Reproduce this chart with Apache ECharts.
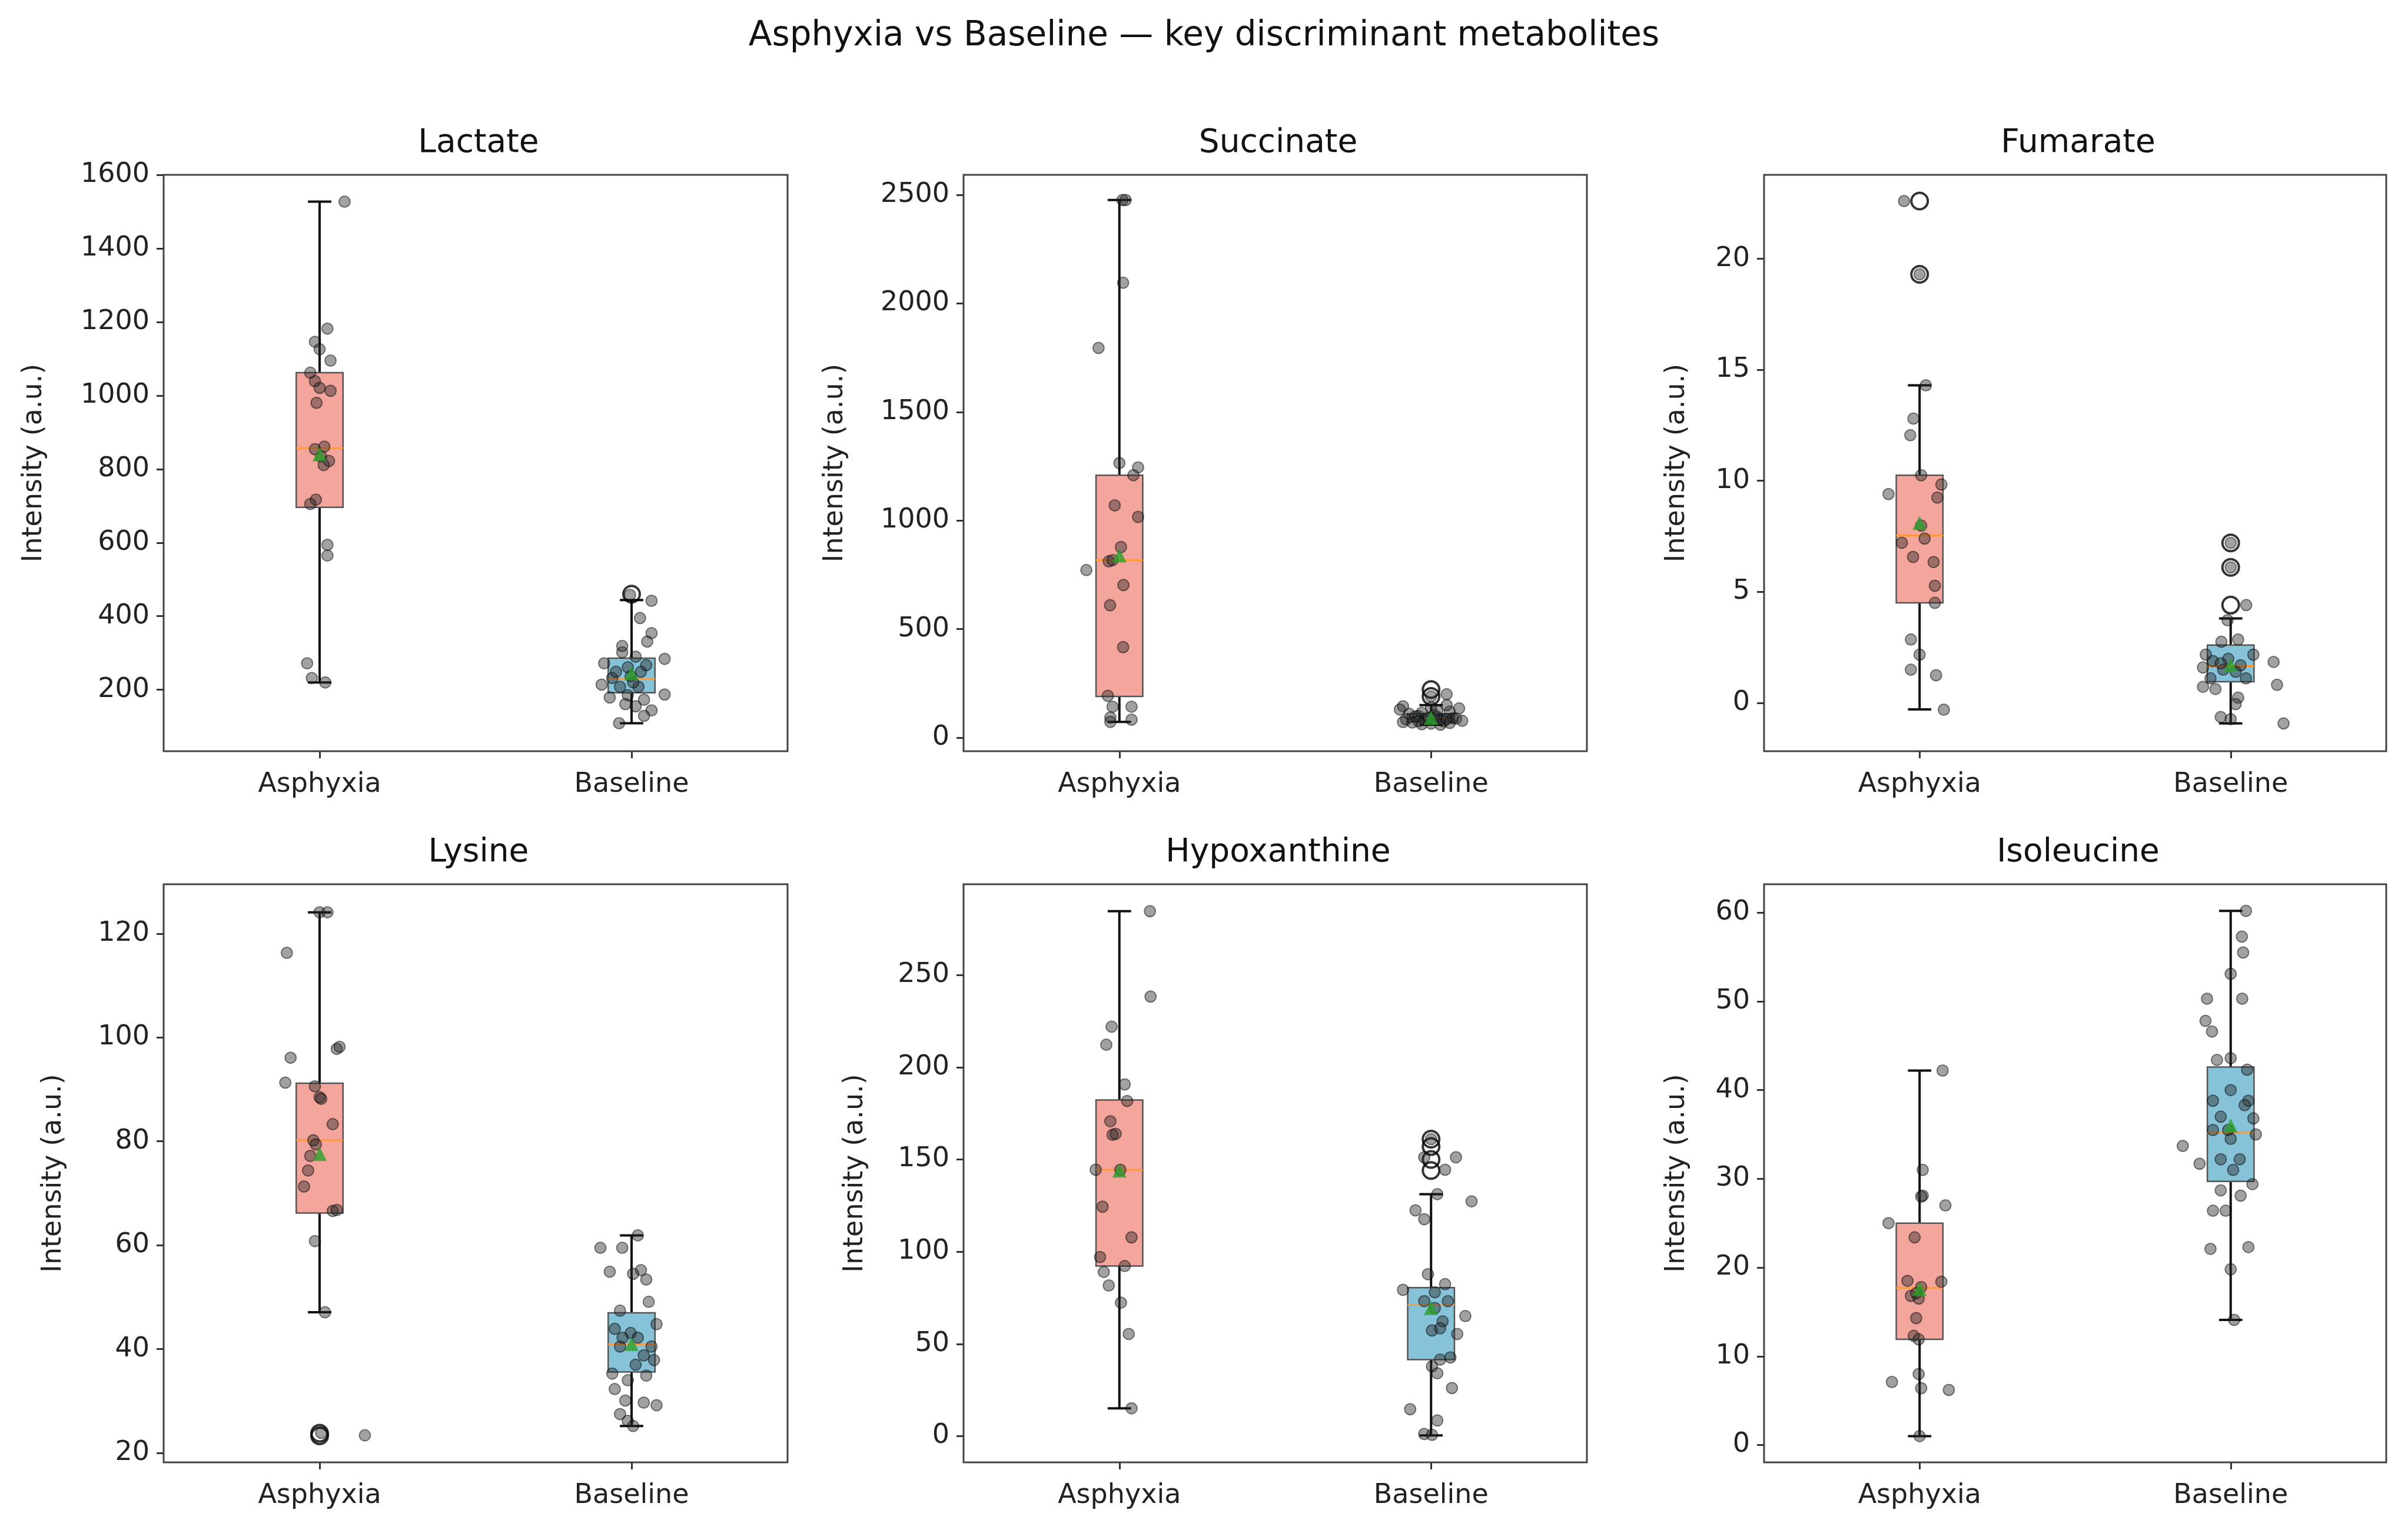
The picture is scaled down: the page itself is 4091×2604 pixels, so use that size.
<!DOCTYPE html>
<html>
<head>
<meta charset="utf-8">
<script src="https://cdn.jsdelivr.net/npm/echarts@6/dist/echarts.min.js"></script>
<style>
  html, body { margin: 0; padding: 0; background: #fff; }
  #chart { width: 4091px; height: 2604px; }
</style>
</head>
<body>
<div id="chart"></div>
<script>
// categories and panels
const categories = ['Asphyxia', 'Baseline'];
const metabolites = ['Lactate', 'Succinate', 'Fumarate', 'Lysine', 'Hypoxanthine', 'Isoleucine'];
const suptitle = 'Asphyxia vs Baseline \u2014 key discriminant metabolites';
const yName = 'Intensity (a.u.)';

// y axis limits and ticks
const yLimits = [[33, 1600], [-62, 2592], [-2.18, 23.78], [18.2, 129.5], [-14.2, 299.2], [-1.96, 63.2]];
const yTicks = [
    [200, 400, 600, 800, 1000, 1200, 1400, 1600],
    [0, 500, 1000, 1500, 2000, 2500],
    [0, 5, 10, 15, 20],
    [20, 40, 60, 80, 100, 120],
    [0, 50, 100, 150, 200, 250],
    [0, 10, 20, 30, 40, 50, 60]
];

// box stats per group: [whiskerLow, Q1, median, Q3, whiskerHigh]
const lactateBox = [[220, 696, 857, 1062, 1527], [109, 192, 230, 286, 444]];
const succinateBox = [[73, 190, 818, 1209, 2476], [60, 72, 88, 110, 150]];
const fumarateBox = [[-0.3, 4.5, 7.54, 10.25, 14.3], [-0.93, 0.95, 1.65, 2.6, 3.8]];
const lysineBox = [[47.1, 66.2, 80.2, 91.2, 124.1], [25.2, 35.6, 40.9, 47, 61.9]];
const hypoxanthineBox = [[15.1, 92.2, 144.4, 182.2, 284.6], [0.4, 41.5, 71.2, 80.5, 131.2]];
const isoleucineBox = [[1.0, 11.9, 17.7, 25.0, 42.2], [14.1, 29.7, 35.2, 42.6, 60.2]];

// group means
const lactateMean = [840, 245];
const succinateMean = [840, 92];
const fumarateMean = [8.1, 1.7];
const lysineMean = [77.6, 41];
const hypoxanthineMean = [144, 69.5];
const isoleucineMean = [17.6, 36];

// outliers: [groupIndex, value]
const lactateOut = [[1, 460]];
const succinateOut = [[1, 222], [1, 190]];
const fumarateOut = [[0, 22.6], [0, 19.3], [1, 7.2], [1, 6.1], [1, 4.4]];
const lysineOut = [[0, 23.3], [0, 23.8]];
const hypoxanthineOut = [[1, 161], [1, 157], [1, 150], [1, 144]];
const isoleucineOut = [];

// jittered observations: [jitter, value]
const lactateA = [[.08, 1527], [.025, 1182], [-.015, 1146], [0, 1126], [.035, 1095], [-.03, 1062], [-.015, 1039], [0, 1021],
    [.035, 1013], [-.01, 980], [-.015, 854], [.015, 861], [.005, 834], [.03, 822], [.013, 811], [-.012, 717], [-.03, 705],
    [.025, 594], [.025, 565], [-.04, 272], [-.025, 232], [.018, 220]];
const lactateB = [[.064, 442], [.027, 395], [.064, 354], [.05, 331], [.106, 284], [-.088, 272], [-.03, 302], [.013, 290],
    [-.012, 261], [.03, 249], [-.062, 232], [-.003, 237], [-.096, 214], [-.037, 208], [.022, 208], [.106, 187], [-.07, 179],
    [-.012, 185], [.04, 173], [.064, 144], [.013, 155], [.04, 129], [-.04, 109], [-.02, 161], [.005, 220], [-.05, 249],
    [.047, 267], [-.03, 319], [-.005, 458]];
const succinateA = [[.01, 2476], [.02, 2476], [.012, 2095], [-.067, 1795], [0, 1265], [.06, 1245], [.045, 1209], [-.015, 1070],
    [.06, 1017], [.005, 878], [-.034, 812], [-.022, 818], [-.106, 772], [.013, 703], [-.03, 610], [.012, 417], [-.037, 193],
    [-.022, 143], [.039, 143], [-.029, 93], [.039, 83], [-.029, 73]];
const succinateB = [[-.09, 145], [-.1, 130], [.06, 120], [.09, 135], [.05, 150], [-.07, 110], [-.04, 100], [.02, 95], [.07, 90],
    [-.08, 85], [-.02, 80], [.04, 75], [-.06, 70], [0, 65], [.03, 60], [.01, 105], [-.03, 115], [.08, 88], [.1, 78], [-.09, 72],
    [.06, 68], [-.01, 92], [.03, 82], [-.05, 98], [.02, 125], [0, 140], [-.03, 62], [.05, 86], [-.04, 76], [.05, 200], [0, 190]];
const fumarateA = [[-.05, 22.6], [0, 19.3], [.02, 14.3], [-.02, 12.8], [-.03, 12.05], [.005, 10.25], [-.1, 9.4], [.07, 9.83],
    [.057, 9.24], [.005, 7.98], [.016, 7.4], [-.057, 7.21], [-.021, 6.57], [.045, 6.34], [.049, 5.27], [.049, 4.5], [-.028, 2.85],
    [0, 2.17], [-.028, 1.49], [.053, 1.24], [.078, -0.31]];
const fumarateB = [[0, 7.2], [0, 6.1], [.05, 4.4], [-.01, 3.72], [.024, 2.85], [-.03, 2.75], [.073, 2.17], [-.08, 2.17],
    [-.057, 1.88], [-.008, 1.98], [.138, 1.84], [-.089, 1.59], [-.024, 1.49], [.016, 1.4], [.049, 1.1], [-.065, 1.1],
    [.149, 0.81], [-.089, 0.72], [-.049, 0.62], [.024, 0.23], [.016, -0.06], [-.032, -0.64], [.17, -0.93], [0, -0.74],
    [.032, 1.69], [-.032, 1.78]];
const lysineA = [[.145, 23.4], [.005, 23.9], [0, 124.1], [.025, 124.1], [-.105, 116.3], [-.093, 96.1], [-.11, 91.3], [.055, 97.8],
    [.064, 98.2], [-.015, 90.6], [0, 88.5], [.005, 88.2], [.042, 83.3], [-.02, 80.2], [-.012, 79.4], [-.03, 77.2], [-.037, 74.4],
    [-.05, 71.3], [.042, 66.6], [.055, 66.8], [-.015, 60.8], [.017, 47.1]];
const lysineB = [[.02, 61.9], [-.1, 59.5], [-.03, 59.5], [-.07, 54.9], [.03, 55.2], [.047, 53.4], [.005, 54.5], [.055, 49.1],
    [-.037, 47.4], [.08, 44.8], [-.054, 43.9], [-.003, 43.1], [.02, 42.2], [.064, 40.5], [-.037, 40.5], [.039, 38.8], [.072, 37.9],
    [-.062, 35.3], [.047, 34.9], [-.012, 34], [-.054, 32.3], [-.02, 30.1], [.039, 29.7], [.08, 29.2], [-.037, 27.5], [-.012, 26.2],
    [.005, 25.2], [-.029, 42.2], [.013, 37.0]];
const hypoxanthineA = [[.098, 284.6], [.1, 238.3], [-.025, 222], [-.042, 212.2], [.017, 190.7], [.025, 181.7], [-.029, 170.7],
    [-.022, 163.4], [-.012, 163.9], [-.076, 144.4], [.003, 144.4], [-.054, 124.4], [.039, 107.8], [-.062, 97.1], [.017, 92.2],
    [-.05, 89], [-.034, 81.7], [.005, 72.4], [.03, 55.4], [.039, 15.1]];
const hypoxanthineB = [[0, 161], [-.022, 151.2], [.08, 151.2], [.045, 144.4], [.02, 131.2], [.13, 127.3], [-.05, 122.4],
    [-.022, 117.6], [-.01, 87.8], [-.09, 79.3], [.045, 82.4], [.012, 78], [-.022, 73.2], [.012, 69.5], [.11, 65.1], [.037, 62.2],
    [.003, 57.3], [.084, 55.4], [.029, 41.5], [.062, 42.7], [.003, 37.8], [.02, 34.1], [.067, 26.1], [-.067, 14.6], [.02, 8.5],
    [-.022, 1.2], [.003, 0.7], [.029, 58.5], [.054, 73.2]];
const isoleucineA = [[.074, 42.2], [.01, 31.0], [.01, 28.1], [.005, 28.0], [.083, 27.0], [-.1, 25.0], [-.016, 23.4], [-.039, 18.5],
    [.07, 18.4], [.005, 17.8], [-.011, 17.1], [-.028, 16.8], [-.003, 16.5], [-.011, 14.3], [-.019, 12.3], [-.003, 11.9],
    [-.003, 8.0], [-.089, 7.1], [.005, 6.4], [.094, 6.2], [0, 1.0]];
const isoleucineB = [[.049, 60.2], [.036, 57.3], [.04, 55.5], [0, 53.1], [.037, 50.3], [-.076, 50.3], [-.081, 47.8], [-.06, 46.6],
    [-.044, 43.4], [0, 43.6], [.053, 42.3], [0, 40.0], [-.057, 38.8], [.057, 38.8], [.045, 38.3], [.073, 36.8], [-.032, 37.0],
    [-.057, 35.5], [-.008, 35.5], [.081, 35.0], [-.154, 33.7], [-.1, 31.7], [-.032, 32.2], [.029, 32.2], [.008, 31.0], [.07, 29.4],
    [-.032, 28.7], [.032, 28.1], [-.057, 26.4], [-.016, 26.4], [-.065, 22.1], [.057, 22.3], [0, 19.8], [.011, 14.1], [0, 34.5]];

const boxes = [lactateBox, succinateBox, fumarateBox, lysineBox, hypoxanthineBox, isoleucineBox];
const means = [lactateMean, succinateMean, fumarateMean, lysineMean, hypoxanthineMean, isoleucineMean];
const outliers = [lactateOut, succinateOut, fumarateOut, lysineOut, hypoxanthineOut, isoleucineOut];
const points = [[lactateA, lactateB], [succinateA, succinateB], [fumarateA, fumarateB],
    [lysineA, lysineB], [hypoxanthineA, hypoxanthineB], [isoleucineA, isoleucineB]];

// layout (px)
const colLeft = [278, 1637, 2997];
const colWidth = [1060, 1059, 1057];
const rowTop = [297, 1502];
const rowHeight = [979, 982];
const nameGaps = [197, 195, 125, 164, 161, 125];
const boxColors = ['#f4a59c', '#86c3d8'];
const FONT = 'DejaVu Sans';

function renderBox(params, api) {
    const x = api.value(0);
    const lo = api.value(1), q1 = api.value(2), med = api.value(3), q3 = api.value(4), hi = api.value(5);
    const hw = 0.075, cw = 0.0375;
    const tl = api.coord([x - hw, q3]);
    const br = api.coord([x + hw, q1]);
    const line = (a, b, style) => ({ type: 'line', shape: { x1: a[0], y1: a[1], x2: b[0], y2: b[1] }, style });
    const wStyle = { stroke: '#111', lineWidth: 4 };
    return {
        type: 'group',
        children: [
            line(api.coord([x, q3]), api.coord([x, hi]), wStyle),
            line(api.coord([x, q1]), api.coord([x, lo]), wStyle),
            line(api.coord([x - cw, hi]), api.coord([x + cw, hi]), wStyle),
            line(api.coord([x - cw, lo]), api.coord([x + cw, lo]), wStyle),
            { type: 'rect', shape: { x: tl[0], y: tl[1], width: br[0] - tl[0], height: br[1] - tl[1] },
              style: { fill: boxColors[params.dataIndex], stroke: '#555', lineWidth: 2.5 } },
            line(api.coord([x - hw, med]), api.coord([x + hw, med]), { stroke: '#ff9a3c', lineWidth: 3 })
        ]
    };
}

const grids = [], xAxes = [], yAxes = [], series = [], titles = [];
titles.push({ text: suptitle, left: 'center', top: 28,
    textStyle: { fontFamily: FONT, fontSize: 58, fontWeight: 'normal', color: '#111' } });

metabolites.forEach((name, i) => {
    const r = Math.floor(i / 3), c = i % 3;
    grids.push({ left: colLeft[c], top: rowTop[r], width: colWidth[c], height: rowHeight[r],
        show: true, borderColor: '#444', borderWidth: 3, backgroundColor: '#fff' });
    titles.push({ text: name, left: colLeft[c] + colWidth[c] / 2, top: rowTop[r] - 86, textAlign: 'center',
        textStyle: { fontFamily: FONT, fontSize: 55, fontWeight: 'normal', color: '#111' } });
    xAxes.push({ type: 'value', gridIndex: i, min: -0.5, max: 1.5, position: 'bottom',
        axisLine: { show: false, onZero: false }, splitLine: { show: false },
        axisTick: { show: true, length: 12, customValues: [0, 1], lineStyle: { color: '#333', width: 3 } },
        axisLabel: { customValues: [0, 1], margin: 34, formatter: v => categories[Math.round(v)],
            fontFamily: FONT, fontSize: 46, color: '#222' } });
    yAxes.push({ type: 'value', gridIndex: i, min: yLimits[i][0], max: yLimits[i][1], position: 'left',
        name: yName, nameLocation: 'middle', nameGap: nameGaps[i],
        nameTextStyle: { fontFamily: FONT, fontSize: 46, color: '#222' },
        axisLine: { show: false, onZero: false }, splitLine: { show: false },
        axisTick: { show: true, length: 12, customValues: yTicks[i], lineStyle: { color: '#333', width: 3 } },
        axisLabel: { customValues: yTicks[i], margin: 24, formatter: v => String(v),
            fontFamily: FONT, fontSize: 46, color: '#222' } });

    series.push({ type: 'custom', xAxisIndex: i, yAxisIndex: i, renderItem: renderBox, z: 2,
        data: boxes[i].map((b, g) => [g].concat(b)) });
    series.push({ type: 'scatter', xAxisIndex: i, yAxisIndex: i, z: 3, symbol: 'circle', symbolSize: 28,
        itemStyle: { color: 'rgba(0,0,0,0)', borderColor: '#000', borderWidth: 4 },
        data: outliers[i].map(o => [o[0], o[1]]) });
    series.push({ type: 'scatter', xAxisIndex: i, yAxisIndex: i, z: 4, symbolSize: 19,
        itemStyle: { color: 'rgba(40,40,40,0.55)', borderColor: 'rgba(0,0,0,0.6)', borderWidth: 2 },
        data: points[i][0].map(p => [p[0], p[1]]).concat(points[i][1].map(p => [1 + p[0], p[1]])) });
    series.push({ type: 'scatter', xAxisIndex: i, yAxisIndex: i, z: 5, symbol: 'triangle', symbolSize: 24,
        itemStyle: { color: '#2ca02c' },
        data: means[i].map((m, g) => [g, m]) });
});

const chart = echarts.init(document.getElementById('chart'));
chart.setOption({
    animation: false,
    backgroundColor: '#fff',
    title: titles,
    grid: grids,
    xAxis: xAxes,
    yAxis: yAxes,
    series: series
});
</script>
</body>
</html>
